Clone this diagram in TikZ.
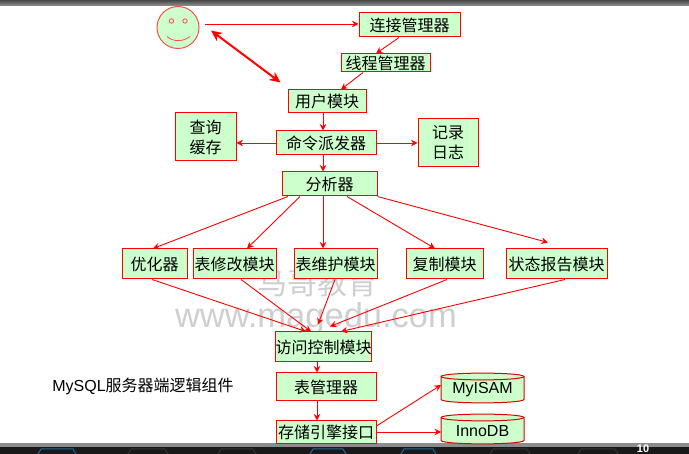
\documentclass[tikz,border=0pt]{standalone}
\usepackage{fontspec}
\setmainfont{Liberation Sans}
\newfontfamily\cjk{Noto Sans CJK SC}
\usetikzlibrary{arrows.meta,calc}
\definecolor{boxfill}{HTML}{CCFFCC}
\definecolor{wm}{HTML}{CFCFCF}
\definecolor{hexblue}{HTML}{1C6A96}
\definecolor{hexdark}{HTML}{333333}
\tikzset{
  px/.style={x=1pt,y=-1pt},
  modbox/.style={draw=red,fill=boxfill,line width=1pt,inner sep=0pt,align=center,font=\fontsize{16}{20}\selectfont\cjk},
  conn/.style={draw=red,line width=0.9pt,-{Stealth[length=6.5pt,width=6.5pt]}},
  bigconn/.style={draw=red,line width=2pt,{Stealth[length=11pt,width=10pt]}-{Stealth[length=11pt,width=10pt]}},
  dbbody/.style={draw=red!85!black,fill=boxfill,line width=1pt,line join=round},
  dbtext/.style={inner sep=0pt,font=\fontsize{16}{19}\selectfont},
  watermark/.style={text=wm,inner sep=0pt},
  hexline/.style={line width=1pt},
}
\newcommand{\modnode}[6]{\node[modbox,minimum width=#4pt-#2pt,minimum height=#5pt-#3pt] (#1) at ({(#2+#4)/2},{(#3+#5)/2}) {#6};}
\newcommand{\dbnode}[6]{%
  \draw[dbbody] (#2,#3+3.5) -- (#2,#5-3.5) .. controls (#2+2,#5+1) and (#4-2,#5+1) .. (#4,#5-3.5) -- (#4,#3+3.5)
     .. controls (#4-2,#3-1) and (#2+2,#3-1) .. cycle;
  \draw[dbbody,fill=none] (#2,#3+3.5) .. controls (#2+2,#3+8) and (#4-2,#3+8) .. (#4,#3+3.5);
  \node[dbtext] (#1) at ({(#2+#4)/2},{(#3+#5)/2+2}) {#6};}
\newcommand{\hexcap}[3]{\draw[hexline,draw=#3] (#1,454) -- (#1+3,449) -- (#2-3,449) -- (#2,454);}
\begin{document}
\begin{tikzpicture}[px]
\useasboundingbox (0,0) rectangle (689,454);
\fill[white] (0,0) rectangle (689,454);
% title bar and footer
\shade[top color=black!72,bottom color=black!42] (0,0) rectangle (689,6);
\fill[black!45] (0,443) rectangle (689,447);
\fill[black!90] (0,447) rectangle (689,454);
\hexcap{38}{76}{hexblue}
\hexcap{128}{168}{hexdark}
\hexcap{218}{256}{hexdark}
\hexcap{310}{346}{hexblue}
\hexcap{401}{436}{hexblue}
\hexcap{490}{530}{hexdark}
\hexcap{578}{618}{hexdark}
\node[text=white,inner sep=0pt,font=\fontsize{11}{11}\selectfont\bfseries] (pageno) at (643,449) {10};
% watermark
\node[watermark,font=\fontsize{30}{30}\selectfont\cjk] (wmcn) at (317,283) {马哥教育};
\node[watermark,font=\fontsize{34.5}{34.5}\selectfont] (wmen) at (316,319) {www.magedu.com};
% smiley
\node[circle,draw=red!70,fill=boxfill,line width=1pt,minimum size=42pt,inner sep=0pt] (user) at (178,27.5) {};
\draw[red!70,line width=0.8pt] (171.5,21) circle (2.2);
\draw[red!70,line width=0.8pt] (185,21) circle (2.2);
\draw[red!70,line width=0.8pt] (167,36.5) .. controls (173,42) and (183,42) .. (190,36.5);
% modules
\modnode{conm}{359}{13}{460}{37}{连接管理器}
\modnode{thrm}{341}{54}{430}{72}{线程管理器}
\modnode{umod}{288}{90}{366}{113}{用户模块}
\modnode{cache}{175}{113}{236}{161}{查询\\缓存}
\modnode{disp}{276}{131}{376}{155}{命令派发器}
\modnode{log}{418}{119}{478}{167}{记录\\日志}
\modnode{pars}{282}{172}{377}{196}{分析器}
\modnode{opt}{122}{249}{187}{279}{优化器}
\modnode{talt}{193}{249}{276}{279}{表修改模块}
\modnode{tmnt}{294}{249}{377}{279}{表维护模块}
\modnode{repl}{406}{249}{483}{279}{复制模块}
\modnode{stat}{506}{249}{607}{279}{状态报告模块}
\modnode{acc}{276}{332}{371}{362}{访问控制模块}
\modnode{tmgr}{276}{373}{376}{401}{表管理器}
\modnode{seng}{276}{421}{376}{444}{存储引擎接口}
\dbnode{myisam}{441}{373}{524}{403}{MyISAM}
\dbnode{innodb}{441}{414}{524}{444}{InnoDB}
\node[inner sep=0pt,font=\fontsize{16}{19}\selectfont] (cap) at (143,386) {MySQL\cjk 服务器端逻辑组件};
% connectors
\coordinate (usrout) at ($(user.center)+(27,-3.5)$);
\draw[conn] (usrout) -- ([yshift=1pt]conm.west);
\draw[conn] ([xshift=-10.5pt]conm.south) -- ([xshift=-9.5pt]thrm.north);
\draw[conn] ([xshift=-22.5pt]thrm.south) -- ([xshift=14pt]umod.north);
\coordinate (usrbig) at ($(user.center)+(33,3)$);
\coordinate (umodbig) at ($(umod.north west)+(-7,-7)$);
\draw[bigconn] (usrbig) -- (umodbig);
\draw[conn] ([xshift=-4pt]umod.south) -- ([xshift=-3pt]disp.north);
\draw[conn] (disp.west) -- ([yshift=-6pt]cache.east);
\draw[conn] (disp.east) -- (log.west);
\draw[conn] ([xshift=-3pt]disp.south) -- ([xshift=-6.5pt]pars.north);
\draw[conn] ([xshift=-41.5pt]pars.south) -- ([xshift=-1.5pt]opt.north);
\draw[conn] ([xshift=-29.5pt]pars.south) -- ([xshift=12.5pt]talt.north);
\draw[conn] ([xshift=-6.5pt]pars.south) -- ([xshift=-12.5pt]tmnt.north);
\draw[conn] ([xshift=17.5pt]pars.south) -- ([xshift=-9.5pt]repl.north);
\draw[conn] (pars.south east) -- ([xshift=-8.5pt,yshift=6pt]stat.north);
\draw[conn] ([xshift=-2.5pt]opt.south) -- ([xshift=-17.5pt]acc.north);
\draw[conn] ([xshift=6.5pt]talt.south) -- ([xshift=-12.5pt]acc.north);
\draw[conn] ([xshift=-0.5pt]tmnt.south) -- ([xshift=-5.5pt,yshift=7pt]acc.north);
\draw[conn] ([xshift=2.5pt]repl.south) -- ([xshift=6.5pt,yshift=5pt]acc.north);
\draw[conn] ([xshift=8.5pt]stat.south) -- ([xshift=17.5pt]acc.north);
\draw[conn] ([xshift=-6.5pt]acc.south) -- ([xshift=-9pt]tmgr.north);
\draw[conn] ([xshift=-9pt]tmgr.south) -- ([xshift=-9pt]seng.north);
\draw[conn] ([yshift=6.5pt]seng.east) -- ([xshift=-41.5pt,yshift=5pt]myisam.center);
\draw[conn] ([yshift=0.5pt]seng.east) -- ([xshift=-41.5pt,yshift=-1pt]innodb.center);
\end{tikzpicture}
\end{document}
